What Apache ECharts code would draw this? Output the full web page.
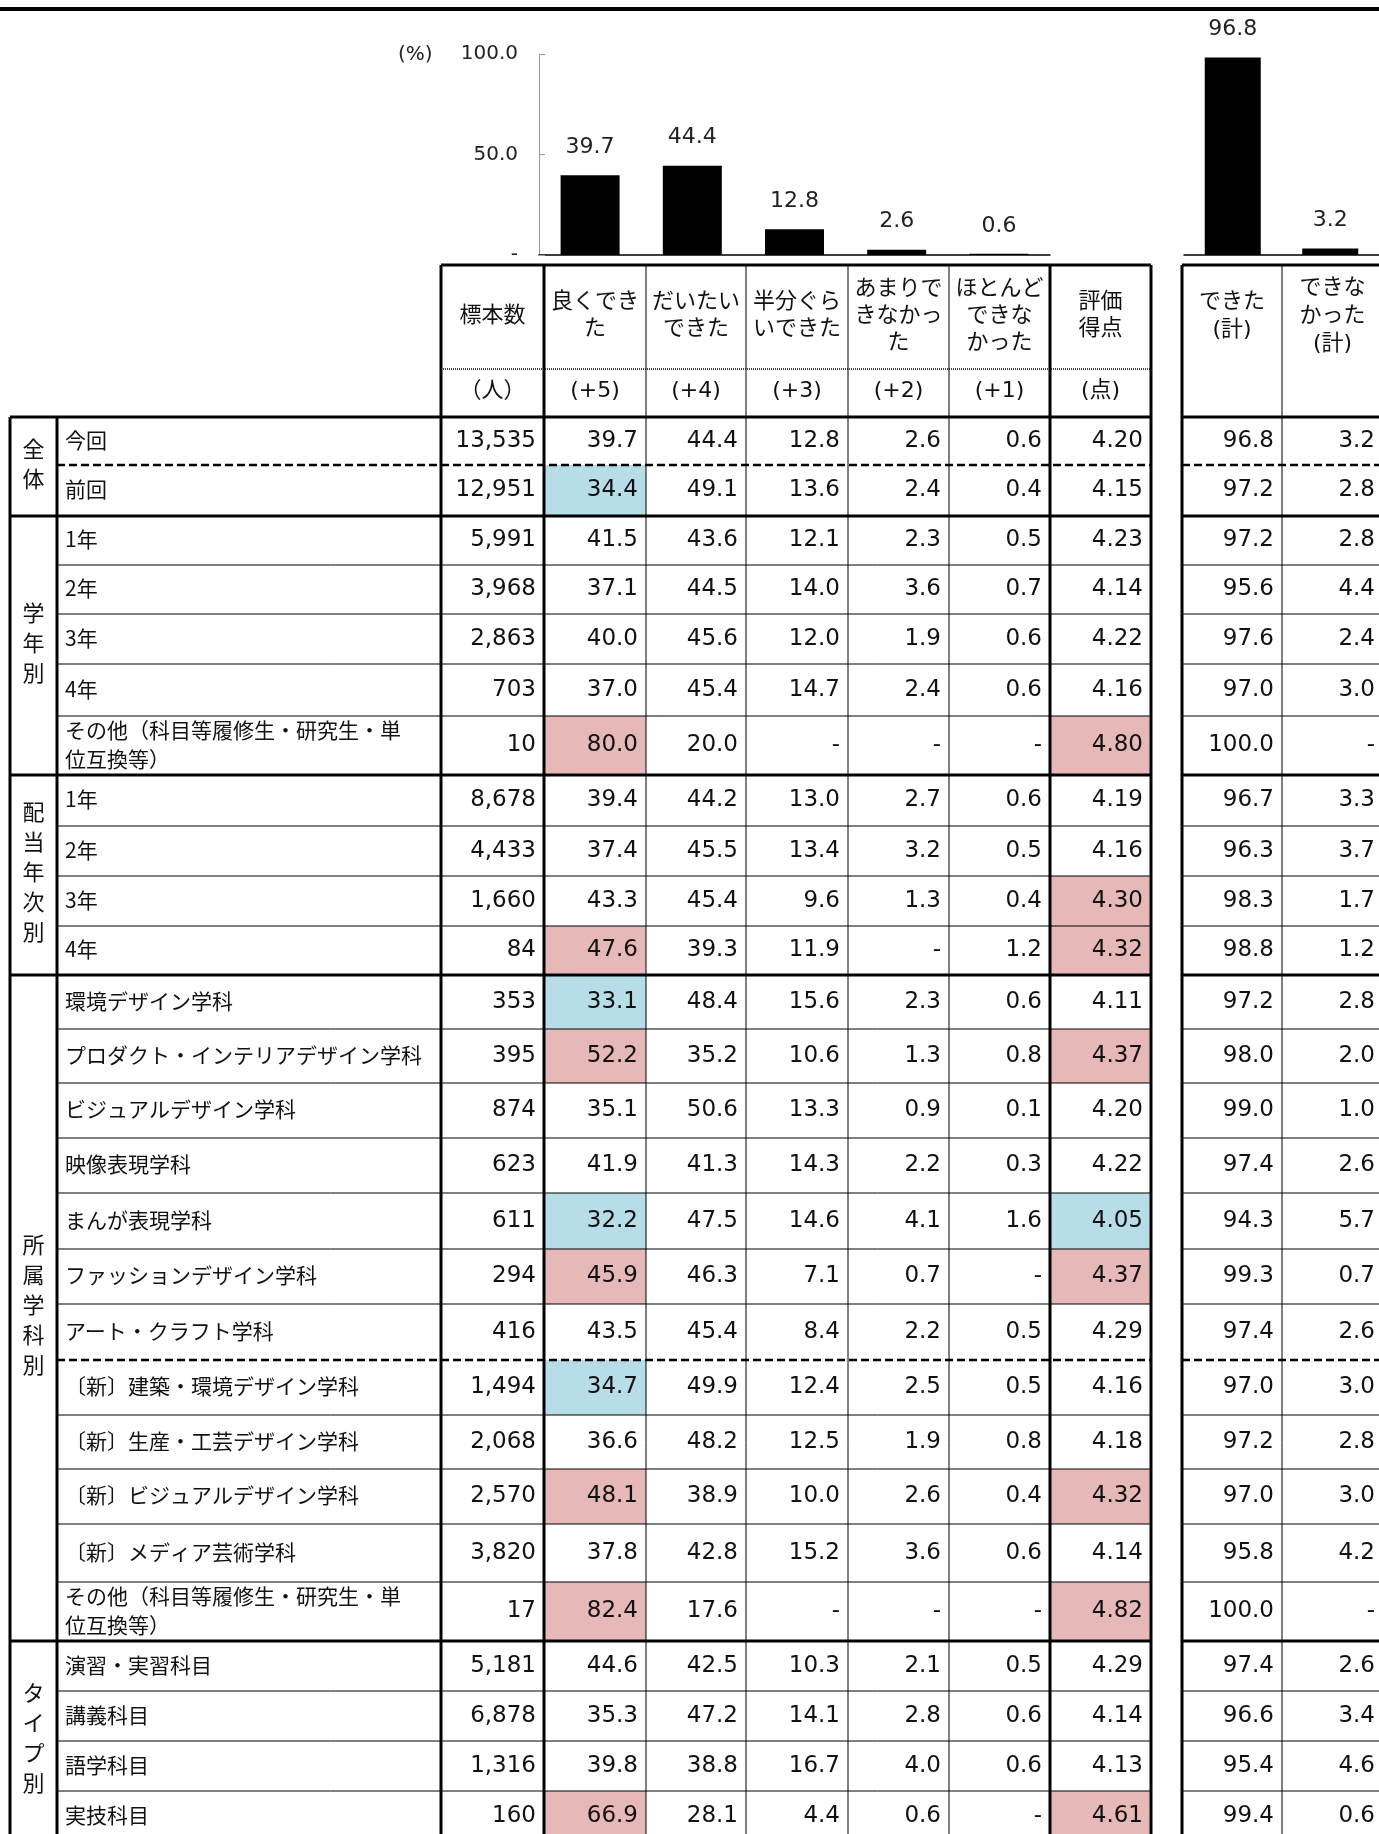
<!DOCTYPE html>
<html>
<head>
<meta charset="utf-8">
<title>授業評価</title>
<script src="https://cdn.jsdelivr.net/npm/echarts@6/dist/echarts.min.js"></script>
<style>
    html, body { margin: 0; padding: 0; background: #fff; }
    #main { width: 1379px; height: 1834px; }
</style>
</head>
<body>
<div id="main"></div>
<script>
    // ===== データ =====
    var chartCats = ['良くできた', 'だいたいできた', '半分ぐらいできた', 'あまりできなかった', 'ほとんどできなかった'];
    var totalCats = ['できた（計）', 'できなかった（計）'];

    var groups = ['全体', '学年別', '配当年次別', '所属学科別', 'タイプ別'];
    var groupSizes = [2, 5, 4, 12, 4];

    var rowLabels = [
        '今回', '前回',
        '1年', '2年', '3年', '4年', 'その他（科目等履修生・研究生・単\n位互換等）',
        '1年', '2年', '3年', '4年',
        '環境デザイン学科', 'プロダクト・インテリアデザイン学科', 'ビジュアルデザイン学科', '映像表現学科',
        'まんが表現学科', 'ファッションデザイン学科', 'アート・クラフト学科',
        '〔新〕建築・環境デザイン学科', '〔新〕生産・工芸デザイン学科', '〔新〕ビジュアルデザイン学科',
        '〔新〕メディア芸術学科', 'その他（科目等履修生・研究生・単\n位互換等）',
        '演習・実習科目', '講義科目', '語学科目', '実技科目'
    ];
    var sampleN  = [13535, 12951, 5991, 3968, 2863, 703, 10, 8678, 4433, 1660, 84, 353, 395, 874, 623, 611, 294, 416, 1494, 2068, 2570, 3820, 17, 5181, 6878, 1316, 160];
    var pct5     = [39.7, 34.4, 41.5, 37.1, 40.0, 37.0, 80.0, 39.4, 37.4, 43.3, 47.6, 33.1, 52.2, 35.1, 41.9, 32.2, 45.9, 43.5, 34.7, 36.6, 48.1, 37.8, 82.4, 44.6, 35.3, 39.8, 66.9];
    var pct4     = [44.4, 49.1, 43.6, 44.5, 45.6, 45.4, 20.0, 44.2, 45.5, 45.4, 39.3, 48.4, 35.2, 50.6, 41.3, 47.5, 46.3, 45.4, 49.9, 48.2, 38.9, 42.8, 17.6, 42.5, 47.2, 38.8, 28.1];
    var pct3     = [12.8, 13.6, 12.1, 14.0, 12.0, 14.7, null, 13.0, 13.4, 9.6, 11.9, 15.6, 10.6, 13.3, 14.3, 14.6, 7.1, 8.4, 12.4, 12.5, 10.0, 15.2, null, 10.3, 14.1, 16.7, 4.4];
    var pct2     = [2.6, 2.4, 2.3, 3.6, 1.9, 2.4, null, 2.7, 3.2, 1.3, null, 2.3, 1.3, 0.9, 2.2, 4.1, 0.7, 2.2, 2.5, 1.9, 2.6, 3.6, null, 2.1, 2.8, 4.0, 0.6];
    var pct1     = [0.6, 0.4, 0.5, 0.7, 0.6, 0.6, null, 0.6, 0.5, 0.4, 1.2, 0.6, 0.8, 0.1, 0.3, 1.6, null, 0.5, 0.5, 0.8, 0.4, 0.6, null, 0.5, 0.6, 0.6, null];
    var score    = [4.20, 4.15, 4.23, 4.14, 4.22, 4.16, 4.80, 4.19, 4.16, 4.30, 4.32, 4.11, 4.37, 4.20, 4.22, 4.05, 4.37, 4.29, 4.16, 4.18, 4.32, 4.14, 4.82, 4.29, 4.14, 4.13, 4.61];
    var doneTotal    = [96.8, 97.2, 97.2, 95.6, 97.6, 97.0, 100.0, 96.7, 96.3, 98.3, 98.8, 97.2, 98.0, 99.0, 97.4, 94.3, 99.3, 97.4, 97.0, 97.2, 97.0, 95.8, 100.0, 97.4, 96.6, 95.4, 99.4];
    var notDoneTotal = [3.2, 2.8, 2.8, 4.4, 2.4, 3.0, null, 3.3, 3.7, 1.7, 1.2, 2.8, 2.0, 1.0, 2.6, 5.7, 0.7, 2.6, 3.0, 2.8, 3.0, 4.2, null, 2.6, 3.4, 4.6, 0.6];

    // 全体より高い(hi)・低い(lo)セル
    var mark5     = ['', 'lo', '', '', '', '', 'hi', '', '', '', 'hi', 'lo', 'hi', '', '', 'lo', 'hi', '', 'lo', '', 'hi', '', 'hi', '', '', '', 'hi'];
    var markScore = ['', '', '', '', '', '', 'hi', '', '', 'hi', 'hi', '', 'hi', '', '', 'lo', 'hi', '', '', '', 'hi', '', 'hi', '', '', '', 'hi'];
    // 行の下の罫線が破線になる行
    var dashedAfter = [0, 17];

    var headTexts = ['標本数', '良くでき\nた', 'だいたい\nできた', '半分ぐら\nいできた', 'あまりで\nきなかっ\nた', 'ほとんど\nできな\nかった', '評価\n得点'];
    var unitTexts = ['（人）', '(+5)', '(+4)', '(+3)', '(+2)', '(+1)', '(点)'];
    var headTexts2 = ['できた\n(計)', 'できな\nかった\n(計)'];

    // ===== レイアウト =====
    var W = 1379, H = 1834;
    var rowEdges = [417, 465, 516, 565, 614, 664, 716, 775, 826, 876, 926, 975, 1029, 1083, 1138, 1193, 1249, 1304, 1360, 1415, 1469, 1524, 1582, 1641, 1691, 1741, 1791, 1841];
    var tblLeft = 10, grpRight = 57;
    var colEdges = [441, 544, 646, 746, 848, 949, 1050, 1151];
    var colThick = [true, true, false, false, false, false, true, true];
    var col2Edges = [1182, 1282, 1383];
    var col2Thick = [true, false, true];
    var headTop = 265, unitTop = 369, bodyTop = 417;
    var fillColor = { hi: '#E6B8B7', lo: '#B7DEE8' };
    var numFont = "'DejaVu Sans','Noto Sans CJK JP'";
    var jpFont = "'Noto Sans CJK JP'";

    function f1(v) { return v == null ? '-' : v.toFixed(1); }
    function fN(v) { return String(v).replace(/\B(?=(\d{3})+(?!\d))/g, ','); }

    // セル（文字と塗り）
    var cells = [];
    function addCell(x0, y0, x1, y1, text, o) {
        cells.push({ x0: x0, y0: y0, x1: x1, y1: y1, text: text, align: o.align || 'right',
            fill: o.fill || null, font: o.font || numFont, size: o.size || 23, lh: o.lh || 28, dy: o.dy || 0 });
    }

    // ヘッダー
    for (var c = 0; c < headTexts.length; c++) {
        addCell(colEdges[c], headTop, colEdges[c + 1], unitTop, headTexts[c], { align: 'center', size: 22, lh: 27, dy: -1 });
        addCell(colEdges[c], unitTop, colEdges[c + 1], bodyTop, unitTexts[c], { align: 'center', size: 22, dy: -2 });
    }
    for (var c = 0; c < headTexts2.length; c++) {
        addCell(col2Edges[c], headTop, col2Edges[c + 1], unitTop, headTexts2[c], { align: 'center', size: 22, lh: 28, dy: -1 });
    }

    // グループ見出し（縦書き）
    var r0 = 0;
    for (var g = 0; g < groups.length; g++) {
        var r1 = r0 + groupSizes[g];
        addCell(tblLeft, rowEdges[r0], grpRight, rowEdges[r1], groups[g].split('').join('\n'),
            { align: 'center', font: jpFont, size: 22, lh: 30, dy: -3 });
        r0 = r1;
    }

    // 本体
    for (var r = 0; r < rowLabels.length; r++) {
        var y0 = rowEdges[r], y1 = rowEdges[r + 1];
        addCell(grpRight, y0, colEdges[0], y1, rowLabels[r], { align: 'left', font: jpFont, size: 21, lh: 29, dy: -1 });
        var vals = [fN(sampleN[r]), f1(pct5[r]), f1(pct4[r]), f1(pct3[r]), f1(pct2[r]), f1(pct1[r]), score[r].toFixed(2)];
        for (var c = 0; c < vals.length; c++) {
            var fill = null;
            if (c === 1 && mark5[r]) fill = fillColor[mark5[r]];
            if (c === 6 && markScore[r]) fill = fillColor[markScore[r]];
            addCell(colEdges[c], y0, colEdges[c + 1], y1, vals[c], { fill: fill });
        }
        addCell(col2Edges[0], y0, col2Edges[1], y1, f1(doneTotal[r]), {});
        addCell(col2Edges[1], y0, col2Edges[2], y1, f1(notDoneTotal[r]), {});
    }

    // 罫線
    var rules = [];
    function addRule(x0, y0, x1, y1, kind) { rules.push({ x0: x0, y0: y0, x1: x1, y1: y1, kind: kind }); }
    addRule(0, 9, W, 9, 'top');
    addRule(colEdges[0], headTop, colEdges[7], headTop, 'thick');
    addRule(col2Edges[0], headTop, W, headTop, 'thick');
    addRule(colEdges[0], unitTop, colEdges[7], unitTop, 'dot');
    addRule(tblLeft, bodyTop, colEdges[7], bodyTop, 'thick');
    addRule(col2Edges[0], bodyTop, W, bodyTop, 'thick');
    var ends = [], acc = 0;
    for (var g = 0; g < groupSizes.length; g++) { acc += groupSizes[g]; ends.push(acc - 1); }
    for (var r = 0; r < rowLabels.length - 1; r++) {
        var kind = ends.indexOf(r) >= 0 ? 'thick' : (dashedAfter.indexOf(r) >= 0 ? 'dash' : 'thin');
        var y = rowEdges[r + 1];
        addRule(kind === 'thick' ? tblLeft : grpRight, y, colEdges[7], y, kind);
        addRule(col2Edges[0], y, W, y, kind);
    }
    var yEnd = rowEdges[rowEdges.length - 1];
    addRule(tblLeft, bodyTop, tblLeft, yEnd, 'thick');
    addRule(grpRight, bodyTop, grpRight, yEnd, 'thick');
    for (var c = 0; c < colEdges.length; c++) addRule(colEdges[c], headTop, colEdges[c], yEnd, colThick[c] ? 'thick' : 'thin');
    for (var c = 0; c < col2Edges.length; c++) addRule(col2Edges[c], headTop, col2Edges[c], yEnd, col2Thick[c] ? 'thick' : 'thin');

    var ruleStyle = {
        top:   { stroke: '#000', lineWidth: 4 },
        thick: { stroke: '#000', lineWidth: 3 },
        thin:  { stroke: '#000', lineWidth: 1 },
        dash:  { stroke: '#000', lineWidth: 2.5, lineDash: [8, 4] },
        dot:   { stroke: '#444', lineWidth: 2, lineDash: [1, 1] }
    };

    // ===== チャート =====
    var myChart = echarts.init(document.getElementById('main'));
    var barLabel = { show: true, position: 'top', distance: 17, fontSize: 22, color: '#222', fontFamily: 'DejaVu Sans',
        formatter: function (p) { return p.value.toFixed(1); } };

    var option = {
        animation: false,
        backgroundColor: '#fff',
        grid: [
            { left: 539, top: 54, width: 511, height: 201 },
            { left: 1184, top: 51, width: 200, height: 204 },
            { left: 0, top: 0, width: W, height: H }
        ],
        xAxis: [
            { type: 'category', gridIndex: 0, data: chartCats,
              axisLine: { lineStyle: { color: '#000', width: 1.5 } },
              axisTick: { inside: true, length: 7, lineStyle: { color: '#999' } },
              axisLabel: { show: false } },
            { type: 'category', gridIndex: 1, data: totalCats,
              axisLine: { lineStyle: { color: '#000', width: 1.5 } },
              axisTick: { inside: true, length: 7, lineStyle: { color: '#999' } },
              axisLabel: { show: false } },
            { type: 'value', gridIndex: 2, min: 0, max: W, show: false }
        ],
        yAxis: [
            { type: 'value', gridIndex: 0, min: 0, max: 100, interval: 50,
              axisLine: { show: true, lineStyle: { color: '#999' } },
              axisTick: { show: true, inside: true, length: 6, lineStyle: { color: '#999' } },
              splitLine: { show: false },
              axisLabel: { margin: 21, fontSize: 20, color: '#222', fontFamily: 'DejaVu Sans',
                  formatter: function (v) { return v === 0 ? '-' : v.toFixed(1); } } },
            { type: 'value', gridIndex: 1, min: 0, max: 100, show: false },
            { type: 'value', gridIndex: 2, min: 0, max: H, inverse: true, show: false }
        ],
        graphic: [
            { type: 'text', left: 398, top: 45, style: { text: '(%)', fontSize: 20, fill: '#222', fontFamily: 'DejaVu Sans' } }
        ],
        series: [
            { type: 'bar', xAxisIndex: 0, yAxisIndex: 0, barWidth: 59,
              itemStyle: { color: '#000' }, label: barLabel,
              data: [pct5[0], pct4[0], pct3[0], pct2[0], pct1[0]] },
            { type: 'bar', xAxisIndex: 1, yAxisIndex: 1, barWidth: 56,
              itemStyle: { color: '#000' }, label: barLabel,
              data: [doneTotal[0], notDoneTotal[0]] },
            { type: 'custom', xAxisIndex: 2, yAxisIndex: 2, z: 2, silent: true,
              data: cells.map(function (c) { return [(c.x0 + c.x1) / 2, (c.y0 + c.y1) / 2]; }),
              renderItem: function (params, api) {
                  var c = cells[params.dataIndex];
                  var p0 = api.coord([c.x0, c.y0]), p1 = api.coord([c.x1, c.y1]);
                  var children = [];
                  if (c.fill) {
                      children.push({ type: 'rect', shape: { x: p0[0], y: p0[1], width: p1[0] - p0[0], height: p1[1] - p0[1] },
                          style: { fill: c.fill } });
                  }
                  var tx = c.align === 'left' ? p0[0] + 8 : (c.align === 'right' ? p1[0] - 8 : (p0[0] + p1[0]) / 2);
                  children.push({ type: 'text', style: { text: c.text, x: tx, y: (p0[1] + p1[1]) / 2 + c.dy,
                      align: c.align, verticalAlign: 'middle', fill: '#111',
                      fontSize: c.size, fontFamily: c.font, lineHeight: c.lh } });
                  return { type: 'group', children: children };
              } },
            { type: 'custom', xAxisIndex: 2, yAxisIndex: 2, z: 3, silent: true,
              data: rules.map(function (l) { return [l.x0, l.y0]; }),
              renderItem: function (params, api) {
                  var l = rules[params.dataIndex];
                  var p0 = api.coord([l.x0, l.y0]), p1 = api.coord([l.x1, l.y1]);
                  return { type: 'line', shape: { x1: p0[0], y1: p0[1], x2: p1[0], y2: p1[1] },
                      style: ruleStyle[l.kind] };
              } }
        ]
    };
    myChart.setOption(option);
</script>
</body>
</html>
